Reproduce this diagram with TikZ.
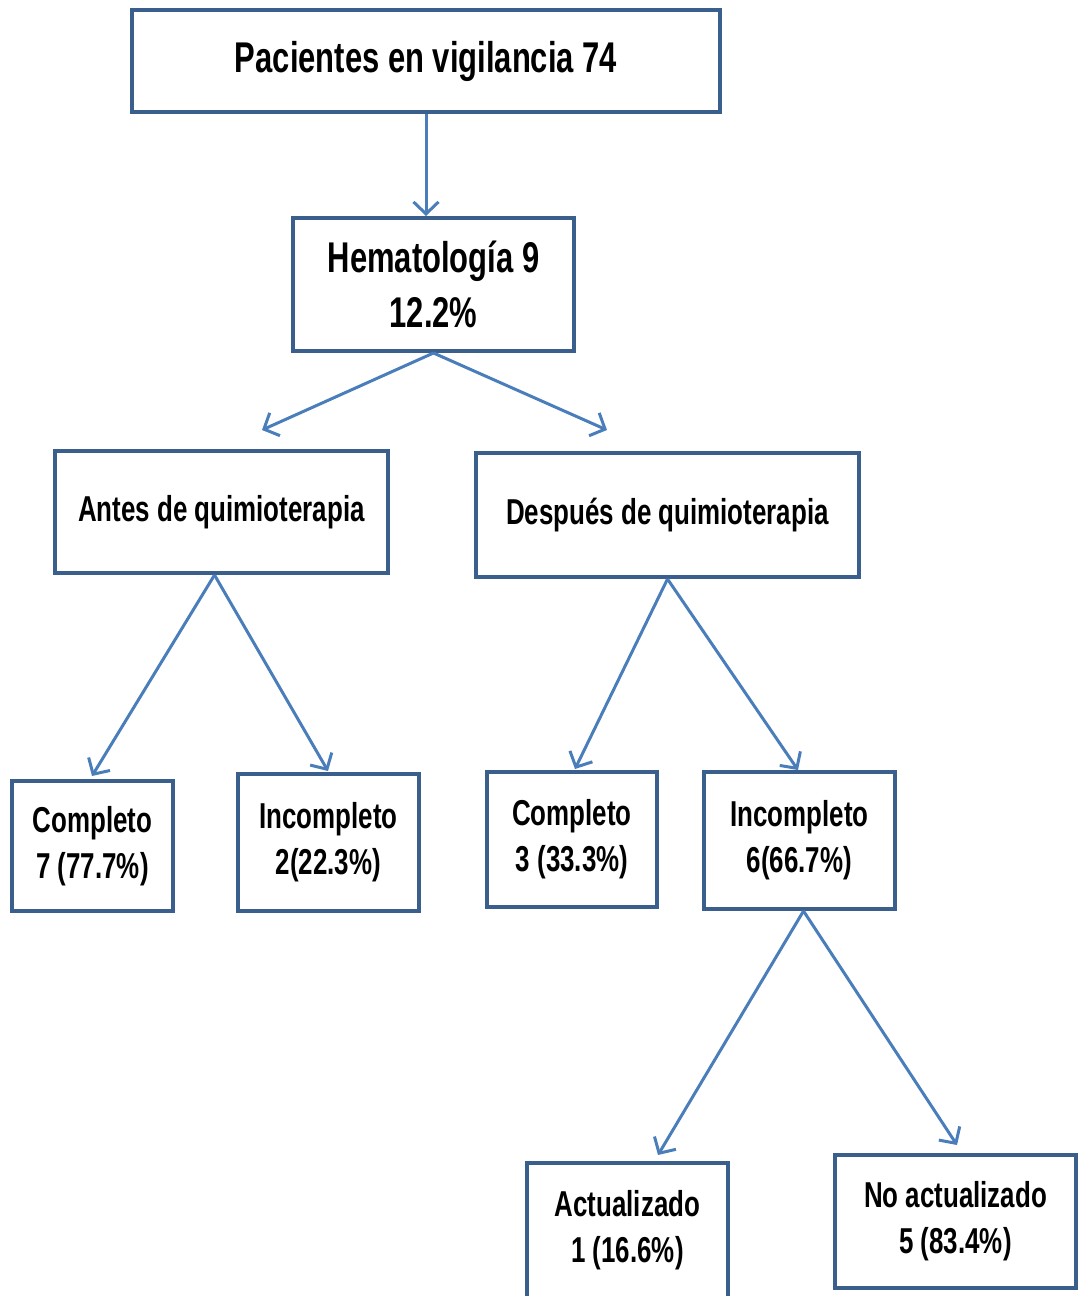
\documentclass[tikz,border=0pt]{standalone}
\usepackage{fontspec}
\setmainfont{Liberation Sans}[FakeStretch=0.72]
\usepackage{tikz}
\usetikzlibrary{arrows.meta}
\definecolor{boxblue}{HTML}{3B5F8C}
\definecolor{arrblue}{HTML}{4A7EBB}
\tikzset{
  fbox/.style={draw=boxblue, line width=2pt, fill=white, align=center, inner sep=0pt, font=\bfseries\fontsize{18}{23}\selectfont},
  farrow/.style={-{Straight Barb[length=6pt,width=12.5pt]}, draw=arrblue, line width=1.5pt}
}
\begin{document}
\begin{tikzpicture}[x=0.5pt, y=-0.5pt]
    \useasboundingbox (0,0) rectangle (1078,1296);
    \node[fbox, minimum width=294pt, minimum height=51pt, font=\bfseries\fontsize{21.5}{27}\selectfont] (top) at (426,61) {Pacientes en vigilancia 74};
    \node[fbox, minimum width=140.5pt, minimum height=66.5pt, font=\bfseries\fontsize{21.5}{27.5}\selectfont] (hem) at (433.5,284.5) {Hematología 9\\12.2\%};
    \node[fbox, minimum width=166.5pt, minimum height=61pt] (antes) at (221.5,512) {Antes de quimioterapia};
    \node[fbox, minimum width=191.5pt, minimum height=62pt] (desp) at (667.5,515) {Después de quimioterapia};
    \node[fbox, minimum width=80.5pt, minimum height=65pt] (compA) at (92.5,846) {Completo\\7 (77.7\%)};
    \node[fbox, minimum width=90.5pt, minimum height=68.5pt] (incA) at (328.5,842.5) {Incompleto\\2(22.3\%)};
    \node[fbox, minimum width=85pt, minimum height=67.5pt] (compD) at (572,839.5) {Completo\\3 (33.3\%)};
    \node[fbox, minimum width=95.5pt, minimum height=68.5pt] (incD) at (799.5,840.5) {Incompleto\\6(66.7\%)};
    \node[fbox, minimum width=100.5pt, minimum height=67.5pt] (act) at (627.5,1230.5) {Actualizado\\1 (16.6\%)};
    \node[fbox, minimum width=120.5pt, minimum height=66.5pt] (noact) at (955.5,1221.5) {No actualizado\\5 (83.4\%)};
    % arrow tips stop short of the boxes
    \coordinate (tAntes) at (262,430);
    \coordinate (tDesp) at (607,430);
    \coordinate (tCompA) at (92,776);
    \coordinate (tIncA) at (328,771);
    \coordinate (tCompD) at (575,769);
    \coordinate (tIncD) at (798,770);
    \coordinate (tAct) at (658,1155);
    \coordinate (tNoact) at (957,1145);
    \draw[farrow] (top.south) -- (top.south |- hem.north);
    \draw[farrow] (hem.south) -- (tAntes);
    \draw[farrow] (hem.south) -- (tDesp);
    \draw[farrow] ([xshift=-3.5pt]antes.south) -- (tCompA);
    \draw[farrow] ([xshift=-3.5pt]antes.south) -- (tIncA);
    \draw[farrow] (desp.south) -- (tCompD);
    \draw[farrow] (desp.south) -- (tIncD);
    \draw[farrow] ([xshift=2pt]incD.south) -- (tAct);
    \draw[farrow] ([xshift=2pt]incD.south) -- (tNoact);
  \end{tikzpicture}
\end{document}
